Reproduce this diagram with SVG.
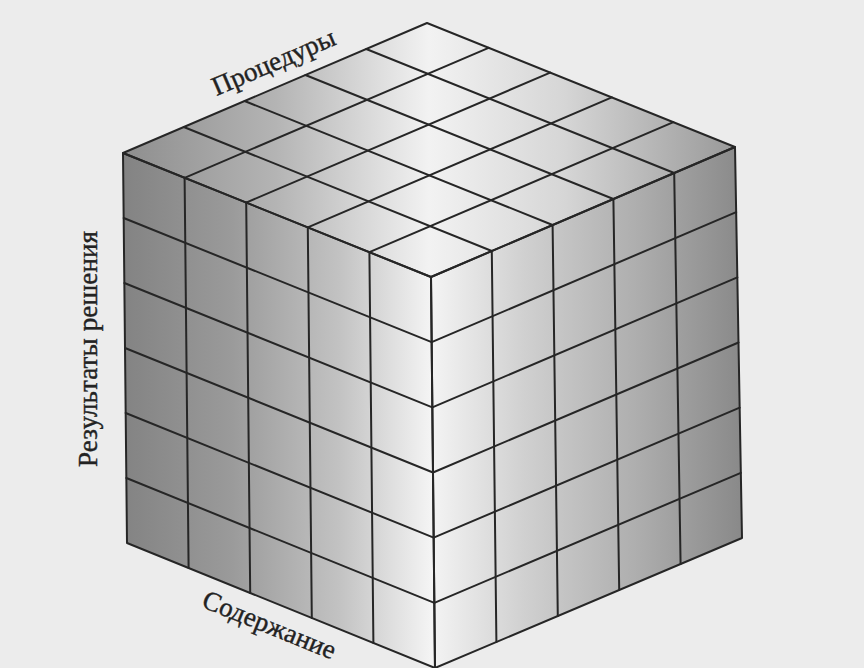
<svg xmlns="http://www.w3.org/2000/svg" width="864" height="668" viewBox="0 0 864 668">
<style>
.g{stroke:#262626;stroke-width:2;fill:none;stroke-linecap:round;stroke-linejoin:round}
.lbl{font-family:"Liberation Serif","Times New Roman",serif;font-size:27px;fill:#222;stroke:#222;stroke-width:0.4}
</style>
<defs>
<linearGradient id="gTop" gradientUnits="userSpaceOnUse" x1="123" y1="0" x2="735" y2="0">
<stop offset="0" stop-color="#8e8e8e"/>
<stop offset="0.25" stop-color="#b4b4b4"/>
<stop offset="0.5" stop-color="#f2f2f2"/>
<stop offset="0.72" stop-color="#d6d6d6"/>
<stop offset="1" stop-color="#999999"/>
</linearGradient>
<linearGradient id="gLeft" gradientUnits="userSpaceOnUse" x1="123" y1="0" x2="431" y2="0">
<stop offset="0" stop-color="#838383"/>
<stop offset="0.35" stop-color="#9a9a9a"/>
<stop offset="0.7" stop-color="#c2c2c2"/>
<stop offset="1" stop-color="#f4f4f4"/>
</linearGradient>
<linearGradient id="gRight" gradientUnits="userSpaceOnUse" x1="431" y1="0" x2="742" y2="0">
<stop offset="0" stop-color="#f4f4f4"/>
<stop offset="0.3" stop-color="#d0d0d0"/>
<stop offset="0.65" stop-color="#afafaf"/>
<stop offset="1" stop-color="#898989"/>
</linearGradient>
</defs>
<rect width="864" height="668" fill="#ececec"/>
<g id="cube">
<polygon id="top-face" points="427,23 735,147 431,277 123,153" fill="url(#gTop)"/>
<polygon id="left-face" points="123,153 431,277 435,668 127,543" fill="url(#gLeft)"/>
<polygon id="right-face" points="431,277 735,147 742,538 435,668" fill="url(#gRight)"/>
</g>
<g id="connectors" class="g">
<polygon points="427,23 735,147 431,277 123,153"/>
<line x1="488.6" y1="47.8" x2="184.6" y2="177.8"/>
<line x1="550.2" y1="72.6" x2="246.2" y2="202.6"/>
<line x1="611.8" y1="97.4" x2="307.8" y2="227.4"/>
<line x1="673.4" y1="122.2" x2="369.4" y2="252.2"/>
<line x1="366.2" y1="49" x2="674.2" y2="173"/>
<line x1="305.4" y1="75" x2="613.4" y2="199"/>
<line x1="244.6" y1="101" x2="552.6" y2="225"/>
<line x1="183.8" y1="127" x2="491.8" y2="251"/>
<polygon points="123,153 431,277 435,668 127,543"/>
<line x1="184.6" y1="177.8" x2="188.6" y2="568"/>
<line x1="246.2" y1="202.6" x2="250.2" y2="593"/>
<line x1="307.8" y1="227.4" x2="311.8" y2="618"/>
<line x1="369.4" y1="252.2" x2="373.4" y2="643"/>
<line x1="123.67" y1="218" x2="431.67" y2="342.17"/>
<line x1="124.33" y1="283" x2="432.33" y2="407.33"/>
<line x1="125" y1="348" x2="433" y2="472.5"/>
<line x1="125.67" y1="413" x2="433.67" y2="537.67"/>
<line x1="126.33" y1="478" x2="434.33" y2="602.83"/>
<polygon points="431,277 735,147 742,538 435,668"/>
<line x1="491.8" y1="251" x2="496.4" y2="642"/>
<line x1="552.6" y1="225" x2="557.8" y2="616"/>
<line x1="613.4" y1="199" x2="619.2" y2="590"/>
<line x1="674.2" y1="173" x2="680.6" y2="564"/>
<line x1="431.67" y1="342.17" x2="736.17" y2="212.17"/>
<line x1="432.33" y1="407.33" x2="737.33" y2="277.33"/>
<line x1="433" y1="472.5" x2="738.5" y2="342.5"/>
<line x1="433.67" y1="537.67" x2="739.67" y2="407.67"/>
<line x1="434.33" y1="602.83" x2="740.83" y2="472.83"/>
</g>
<g id="labels">
<text id="label-procedures" class="lbl" text-anchor="middle" transform="translate(277,70) rotate(-23.2)">Процедуры</text>
<text id="label-results" class="lbl" text-anchor="middle" transform="translate(97,349) rotate(-90)" textLength="236" lengthAdjust="spacing">Результаты решения</text>
<text id="label-content" class="lbl" text-anchor="middle" transform="translate(266,633) rotate(22.1)">Содержание</text>
</g>
</svg>
